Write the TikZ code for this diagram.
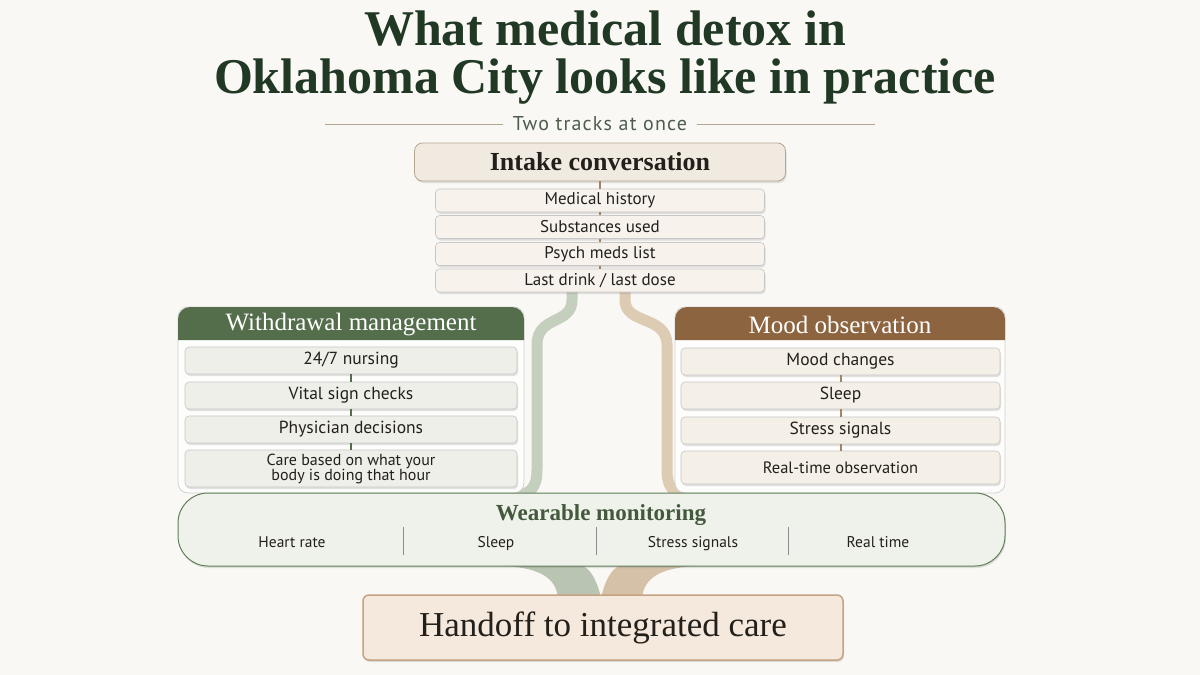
\documentclass[tikz,border=0pt]{standalone}
\usepackage{fontspec}
\setmainfont{Liberation Serif}
\setsansfont{PT Sans}
\definecolor{pagebg}{RGB}{249, 248, 245}
\definecolor{titlegreen}{RGB}{32, 56, 36}
\definecolor{subgray}{RGB}{78, 92, 76}
\definecolor{hdrgreen}{RGB}{84, 110, 76}
\definecolor{hdrbrown}{RGB}{140, 101, 64}
\definecolor{intakefill}{RGB}{241, 234, 224}
\definecolor{intakedraw}{RGB}{180, 166, 144}
\definecolor{greenitem}{RGB}{238, 239, 232}
\definecolor{tanitem}{RGB}{244, 239, 231}
\definecolor{bandgreen}{RGB}{196, 207, 189}
\definecolor{bandtan}{RGB}{221, 203, 180}
\definecolor{wearfill}{RGB}{239, 242, 234}
\definecolor{weardraw}{RGB}{95, 125, 88}
\definecolor{handfill}{RGB}{244, 233, 220}
\definecolor{handdraw}{RGB}{196, 163, 131}
\definecolor{textdark}{RGB}{35, 32, 28}
\usetikzlibrary{positioning, shadows, calc}
\tikzset{
  softshadow/.style={drop shadow={shadow xshift=1pt, shadow yshift=-2pt, opacity=0.18, fill=black!60}},
  itembox/.style={rounded corners=4pt, draw=black!22, line width=0.6pt, softshadow, font=\sffamily\fontsize{17.5}{19}\selectfont, text=textdark, inner sep=1pt},
  intakeitem/.style={itembox, fill=intakefill!60, minimum width=329pt, minimum height=23pt, font=\sffamily\fontsize{17}{19}\selectfont},
  leftitem/.style={itembox, fill=greenitem, minimum width=332pt, minimum height=27pt},
  rightitem/.style={itembox, fill=tanitem, minimum width=319pt, minimum height=27pt},
  panelbox/.style={rounded corners=10pt, fill=white!70!pagebg, draw=black!18, line width=0.8pt, minimum width=346pt, minimum height=186pt},
  hdrtext/.style={font=\fontsize{25}{27}\selectfont, text=white},
  tickg/.style={hdrgreen, line width=2pt},
  tickt/.style={hdrbrown!80, line width=2pt},
  bandg/.style={bandgreen, line width=11pt},
  bandt/.style={bandtan, line width=11pt},
  wearitem/.style={font=\sffamily\fontsize{15.5}{17}\selectfont, text=textdark, text height=11pt, text depth=3.5pt},
  divider/.style={black!45, line width=0.8pt},
}

\begin{document}
\begin{tikzpicture}[x=1pt, y=-1pt]
  \useasboundingbox (0,0) rectangle (1200,675);
  \fill[pagebg] (0,0) rectangle (1200,675);

  % title
  \node[font=\bfseries\fontsize{50}{48}\selectfont, text=titlegreen, align=center] (title) at (605,58)
    {What medical detox in\\Oklahoma City looks like in practice};
  \node[font=\sffamily\fontsize{20}{22}\selectfont\addfontfeatures{LetterSpace=6}, text=subgray] (sub) at (600,124) {Two tracks at once};
  \coordinate (subl) at (325,124);
  \coordinate (subr) at (875,124);
  \draw[intakedraw, line width=0.8pt] (subl) -- ([xshift=-6pt]sub.west);
  \draw[intakedraw, line width=0.8pt] ([xshift=6pt]sub.east) -- (subr);

  % bands from intake into the two tracks
  \draw[bandg] (572,288) -- (572,300) .. controls (572,325) and (537,315) .. (537,345) -- (537,470) .. controls (537,488) and (530,492) .. (520,496);
  \draw[bandt] (625,288) -- (625,300) .. controls (625,325) and (667,315) .. (667,345) -- (667,470) .. controls (667,488) and (674,492) .. (684,496);

  % intake
  \node[rounded corners=8pt, fill=intakefill, draw=intakedraw, line width=0.8pt, softshadow,
        minimum width=371pt, minimum height=38pt, font=\bfseries\fontsize{26}{28}\selectfont, text=textdark] (intake) at (600,162) {Intake conversation};
  \node[intakeitem] (i1) at (600,200.5) {Medical history};
  \node[intakeitem] (i2) at (600,227) {Substances used};
  \node[intakeitem] (i3) at (600,254) {Psych meds list};
  \node[intakeitem] (i4) at (600,280.5) {Last drink / last dose};
  \foreach \i/\j in {intake/i1,i1/i2,i2/i3,i3/i4} \draw[tickt] (\i)--(\j);

  % withdrawal management track
  \node[panelbox] (lpanel) at (351,400) {};
  \fill[hdrgreen] (178,340) [rounded corners=12pt] -- (178,307) -- (524,307) [sharp corners] -- (524,340) -- cycle;
  \node[hdrtext] (lhdr) at (351,325) {Withdrawal management};
  \node[leftitem] (l1) at (351,360.5) {24/7 nursing};
  \node[leftitem] (l2) at (351,395.5) {Vital sign checks};
  \node[leftitem] (l3) at (351,429.5) {Physician decisions};
  \node[leftitem, minimum height=37pt, align=center, font=\sffamily\fontsize{16}{15}\selectfont] (l4) at (351,468.5)
    {Care based on what your\\ body is doing that hour};
  \foreach \i/\j in {l1/l2,l2/l3,l3/l4} \draw[tickg] (\i)--(\j);

  % mood observation track
  \node[panelbox, minimum width=330pt] (rpanel) at (840,400) {};
  \fill[hdrbrown] (675,340) [rounded corners=12pt] -- (675,307) -- (1005,307) [sharp corners] -- (1005,340) -- cycle;
  \node[hdrtext] (rhdr) at (840,325) {Mood observation};
  \node[rightitem] (r1) at (840.5,361.5) {Mood changes};
  \node[rightitem] (r2) at (840.5,395.5) {Sleep};
  \node[rightitem] (r3) at (840.5,430.5) {Stress signals};
  \node[rightitem, minimum height=33pt, font=\sffamily\fontsize{16.5}{18}\selectfont] (r4) at (840.5,467.5) {Real-time observation};
  \foreach \i/\j in {r1/r2,r2/r3,r3/r4} \draw[tickt] (\i)--(\j);

  % funnel into the handoff
  \fill[bandgreen!90!hdrgreen] (505,566) .. controls (540,568) and (556,578) .. (558,598) -- (601,598)
    .. controls (597,580) and (590,568) .. (582,566) -- cycle;
  \fill[bandtan!90!hdrbrown] (695,566) .. controls (660,568) and (644,578) .. (642,598) -- (601,598)
    .. controls (605,580) and (612,568) .. (620,566) -- cycle;

  % wearable monitoring
  \node[rounded corners=30pt, fill=wearfill, draw=weardraw, line width=1pt, softshadow,
        minimum width=827pt, minimum height=73pt] (wear) at (591.5,529.5) {};
  \node[font=\bfseries\fontsize{23}{25}\selectfont, text=hdrgreen!80!black] (weartitle) at (601,515) {Wearable monitoring};
  \node[wearitem] (w1) at (292,544) {Heart rate};
  \node[wearitem] (w2) at (496,544) {Sleep};
  \node[wearitem] (w3) at (693,544) {Stress signals};
  \node[wearitem] (w4) at (878,544) {Real time};
  \foreach \x in {403,596,788} \draw[divider] (\x,527) -- (\x,555);

  % handoff
  \node[rounded corners=6pt, fill=handfill, draw=handdraw, line width=1.5pt, softshadow,
        minimum width=480pt, minimum height=65pt, font=\fontsize{35}{37}\selectfont, text=textdark] (handoff) at (603,627.5) {Handoff to integrated care};
\end{tikzpicture}
\end{document}
